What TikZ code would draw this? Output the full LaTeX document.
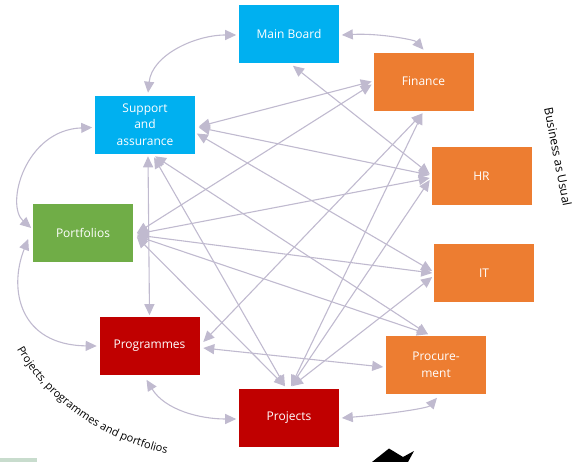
\documentclass[tikz,border=0pt]{standalone}
\usepackage{fontspec}
\setmainfont{Open Sans}
\usetikzlibrary{arrows.meta,calc,decorations.text}

\definecolor{boardblue}{RGB}{0,176,240}
\definecolor{bauorange}{RGB}{237,125,49}
\definecolor{pfgreen}{RGB}{112,173,71}
\definecolor{ppred}{RGB}{192,0,0}
\definecolor{linkgrey}{RGB}{192,186,207}
\definecolor{sage}{RGB}{200,220,205}

\tikzset{
  unit/.style={rectangle, minimum width=101pt, minimum height=59pt,
    inner sep=1pt, text=white, align=center,
    font=\fontsize{12}{16.5}\selectfont, draw=white, line width=0.6pt},
  gov/.style={unit, fill=boardblue},
  bau/.style={unit, fill=bauorange},
  pfo/.style={unit, fill=pfgreen},
  ppm/.style={unit, fill=ppred},
  link/.style={draw=linkgrey, line width=1.1pt,
    {Triangle[length=11pt,width=10pt]}-{Triangle[length=11pt,width=10pt]}},
}

\begin{document}
\begin{tikzpicture}[x=1pt, y=-1pt]
\useasboundingbox (0,0) rectangle (577,462);

% organisation units
\node[gov] (board) at (289,34)    {Main Board};
\node[bau] (fin)   at (423.5,81.5){Finance};
\node[gov] (sup)   at (145,124.5) {Support\\and\\assurance};
\node[bau] (hr)    at (481.5,176) {HR};
\node[pfo] (port)  at (83,233)    {Portfolios};
\node[bau] (it)    at (484,273)   {IT};
\node[ppm] (prog)  at (149.5,346) {Programmes};
\node[bau] (proc)  at (436,365)   {Procure-\\ment};
\node[ppm] (proj)  at (289,418)   {Projects};

% outer ring of curved links
\draw[link] ($(board.west)+(-2,1)$) .. controls (195,35) and (152,55) .. ($(sup.north)+(3,-2)$);
\draw[link] ($(board.east)+(2,1)$) .. controls (380,33) and (415,40) .. ($(fin.north)+(0,-2)$);
\draw[link] ($(sup.west)+(-2,3)$) .. controls (25,130) and (5,205) .. ($(port.west)+(-1,-5)$);
\draw[link] ($(port.west)+(-4,6)$) .. controls (8,290) and (20,345) .. ($(prog.west)+(-2,0)$);
\draw[link] ($(prog.south)+(-3,4)$) .. controls (165,410) and (200,419) .. ($(proj.west)+(-2,1)$);
\draw[link] ($(proj.east)+(2,0)$) .. controls (390,414) and (428,408) .. ($(proc.south)+(1,3)$);

% links from support and assurance
\draw[link] ($(sup.east)+(3,2)$) -- ($(fin.west)+(-1,0)$);
\draw[link] ($(sup.east)+(3,3)$) -- ($(hr.west)+(-1,-1)$);
\draw[link] ($(sup.east)+(1,9)$) -- ($(it.west)+(-1,-2)$);
\draw[link] ($(sup.south)+(10,2)$) -- ($(proc.north)+(-8,-1)$);
\draw[link] ($(sup.south)+(3,2)$) -- ($(prog.north)+(0,-1)$);
\draw[link] ($(sup.south)+(9,3)$) -- ($(proj.north)+(-4,-2)$);

% links from portfolios
\draw[link] ($(port.east)+(3,0)$) -- ($(fin.west)+(-1,3)$);
\draw[link] ($(port.east)+(3,1)$) -- ($(hr.west)+(-1,2)$);
\draw[link] ($(port.east)+(3,2)$) -- ($(it.west)+(-1,0)$);
\draw[link] ($(port.east)+(3,3)$) -- ($(proc.north)+(-8,-1)$);
\draw[link] ($(port.east)+(3,4)$) -- ($(proj.north)+(-4,-2)$);

% remaining cross links
\draw[link] ($(board.south)+(4,2)$) -- ($(hr.west)+(-1,-2)$);
\draw[link] ($(fin.south)+(-1,2)$) -- ($(prog.east)+(3,-4)$);
\draw[link] ($(fin.south)+(-1,2)$) -- ($(proj.north)+(2,-2)$);
\draw[link] ($(hr.west)+(-1,4)$) -- ($(proj.north)+(2,-2)$);
\draw[link] ($(it.west)+(-1,4)$) -- ($(proj.north)+(3,-2)$);
\draw[link] ($(prog.east)+(3,2)$) -- ($(proc.west)+(-2,2)$);

% group captions
\node[rotate=-79, font=\fontsize{12}{14}\selectfont] (bau-caption) at (558,157) {Business as Usual};
\path[decorate, decoration={text along path, text align=left,
   text={|\fontsize{11}{12}\selectfont|Projects, programmes and portfolios}}]
   (17,349) .. controls (44,398) and (100,440) .. (172,455);

% fragments along the lower edge
\fill[sage] (0,457.5) rectangle (37,462);
\fill[black] (372,462) -- (389,448.5) -- (403,457) -- (414,451) -- (408,462) -- cycle;
\end{tikzpicture}
\end{document}
